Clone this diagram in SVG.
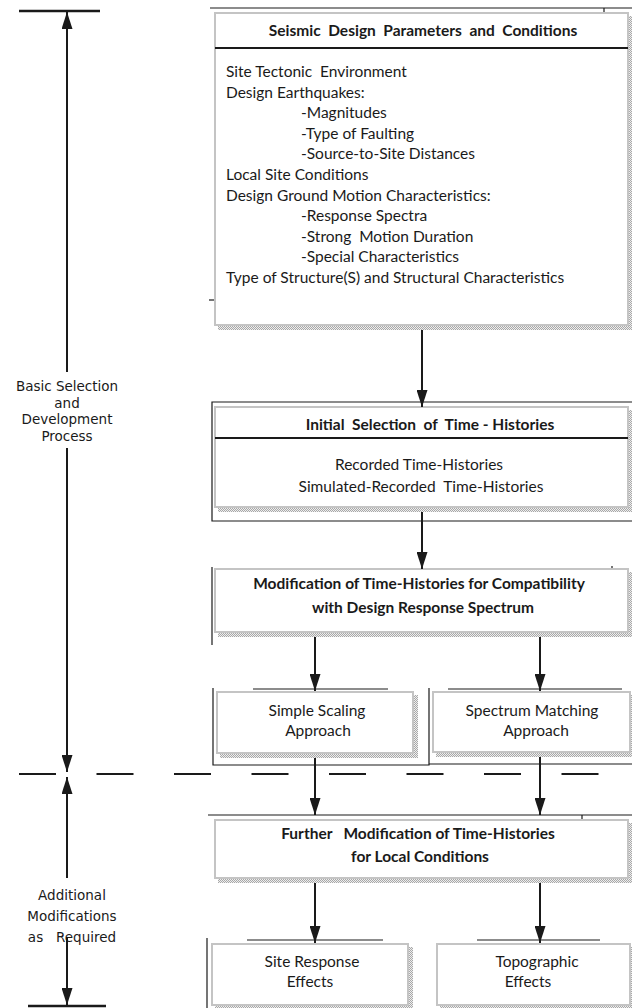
<svg xmlns="http://www.w3.org/2000/svg" width="632" height="1008" viewBox="0 0 632 1008">
<style>
.box{fill:#fff;stroke:#c4c4c4;stroke-width:2}
.sh{fill:url(#dots)}
.t{font-family:Lato,"Open Sans",sans-serif;font-size:15.5px;fill:#1a1a1a}
.b{font-weight:bold}
.c{text-anchor:middle}
.lab{font-family:"DejaVu Sans",sans-serif;font-size:13.5px;fill:#1a1a1a;text-anchor:middle}
.ln{stroke:#1a1a1a;stroke-width:1.2;fill:none}
.ar{stroke:#1a1a1a;stroke-width:2;fill:none;marker-end:url(#ah)}
.bar{stroke:#1a1a1a;stroke-width:2.5;fill:none}
</style>
<defs>
<pattern id="dots" width="2" height="2" patternUnits="userSpaceOnUse">
<rect width="2" height="2" fill="#eeeeee"/>
<rect width="1" height="1" fill="#a8a8a8"/>
<rect x="1" y="1" width="1" height="1" fill="#a8a8a8"/>
</pattern>
<marker id="ah" markerUnits="userSpaceOnUse" markerWidth="17" markerHeight="11" refX="17" refY="5.5" orient="auto">
<path d="M0,0 L17,5.5 L0,11 Z" fill="#1a1a1a"/>
</marker>
</defs>

<g id="frame-lines">
<line class="ln" x1="210" y1="8" x2="632" y2="8"/>
<line class="ln" x1="604" y1="8" x2="604" y2="13"/>
<line class="ln" x1="209" y1="300" x2="215" y2="300"/>
<path class="ln" d="M632,402 H212 V521 H632"/>
<line class="ln" x1="212" y1="567" x2="212" y2="645"/>
<line class="ln" x1="612" y1="566" x2="612" y2="571"/>
<line class="ln" x1="253" y1="689" x2="388" y2="689"/>
<line class="ln" x1="448" y1="689" x2="622" y2="689"/>
<path class="ln" d="M213,688 V765 H429 V688 M429,764 H632"/>
<line class="ln" x1="208" y1="815" x2="632" y2="815"/>
<line class="ln" x1="582" y1="815" x2="582" y2="820"/>
<line class="ln" x1="247" y1="940" x2="383" y2="940"/>
<line class="ln" x1="477" y1="940" x2="600" y2="940"/>
<line class="ln" x1="207" y1="938" x2="207" y2="1008"/>
</g>

<g id="n-seismic">
<rect class="sh" x="218" y="16" width="414" height="314"/>
<rect class="box" x="215" y="13" width="413" height="312"/>
<line x1="215" y1="48" x2="628" y2="48" stroke="#1a1a1a" stroke-width="2"/>
<text class="t b c" x="423" y="36" xml:space="preserve">Seismic  Design  Parameters  and  Conditions</text>
<text class="t" x="226" y="77" xml:space="preserve">Site Tectonic  Environment</text>
<text class="t" x="226" y="97.6">Design Earthquakes:</text>
<text class="t" x="301" y="118.2">-Magnitudes</text>
<text class="t" x="301" y="138.8">-Type of Faulting</text>
<text class="t" x="301" y="159.4">-Source-to-Site Distances</text>
<text class="t" x="226" y="180">Local Site Conditions</text>
<text class="t" x="226" y="200.6">Design Ground Motion Characteristics:</text>
<text class="t" x="301" y="221.2">-Response Spectra</text>
<text class="t" x="301" y="241.8" xml:space="preserve">-Strong  Motion Duration</text>
<text class="t" x="301" y="262.4">-Special Characteristics</text>
<text class="t" x="226" y="283">Type of Structure(S) and Structural Characteristics</text>
</g>

<g id="n-initial">
<rect class="sh" x="218" y="410" width="414" height="102"/>
<rect class="box" x="215" y="407" width="413" height="100"/>
<line x1="215" y1="438" x2="628" y2="438" stroke="#1a1a1a" stroke-width="2"/>
<text class="t b c" x="430" y="430" xml:space="preserve">Initial  Selection  of  Time - Histories</text>
<text class="t c" x="419" y="470">Recorded Time-Histories</text>
<text class="t c" x="421" y="492" xml:space="preserve">Simulated-Recorded  Time-Histories</text>
</g>

<g id="n-modification">
<rect class="sh" x="218" y="572" width="414" height="65"/>
<rect class="box" x="215" y="569" width="413" height="63"/>
<text class="t b c" x="419" y="589">Modification of Time-Histories for Compatibility</text>
<text class="t b c" x="423" y="613">with Design Response Spectrum</text>
</g>

<g id="n-simple">
<rect class="sh" x="220" y="695" width="198" height="63"/>
<rect class="box" x="217" y="692" width="196" height="61"/>
<text class="t c" x="317" y="716">Simple Scaling</text>
<text class="t c" x="318" y="736">Approach</text>
</g>

<g id="n-spectrum">
<rect class="sh" x="436" y="695" width="196" height="62"/>
<rect class="box" x="433" y="692" width="197" height="60"/>
<text class="t c" x="532" y="716">Spectrum Matching</text>
<text class="t c" x="536" y="736">Approach</text>
</g>

<g id="n-further">
<rect class="sh" x="218" y="823" width="414" height="60"/>
<rect class="box" x="215" y="820" width="413" height="58"/>
<text class="t b c" x="418" y="839" xml:space="preserve">Further   Modification of Time-Histories</text>
<text class="t b c" x="420" y="862">for Local Conditions</text>
</g>

<g id="n-site">
<rect class="sh" x="215" y="947" width="198" height="61"/>
<rect class="box" x="212" y="944" width="196" height="61"/>
<text class="t c" x="312" y="967">Site Response</text>
<text class="t c" x="310" y="987">Effects</text>
</g>

<g id="n-topo">
<rect class="sh" x="440" y="947" width="192" height="61"/>
<rect class="box" x="437" y="944" width="193" height="61"/>
<text class="t c" x="537" y="967">Topographic</text>
<text class="t c" x="528" y="987">Effects</text>
</g>

<g id="n-basic-label">
<text class="lab" x="67" y="391">Basic Selection</text>
<text class="lab" x="67" y="408">and</text>
<text class="lab" x="67" y="424">Development</text>
<text class="lab" x="67" y="441">Process</text>
</g>

<g id="n-additional-label">
<text class="lab" x="72" y="900">Additional</text>
<text class="lab" x="72" y="921">Modifications</text>
<text class="lab" x="72" y="942" xml:space="preserve">as   Required</text>
</g>

<g id="connectors">
<line class="ar" x1="422" y1="330" x2="422" y2="407"/>
<line class="ar" x1="422" y1="512" x2="422" y2="569"/>
<line class="ar" x1="315" y1="637" x2="315" y2="691"/>
<line class="ar" x1="540" y1="637" x2="540" y2="691"/>
<line class="ar" x1="315" y1="758" x2="315" y2="815"/>
<line class="ar" x1="540" y1="757" x2="540" y2="815"/>
<line class="ar" x1="315" y1="883" x2="315" y2="943"/>
<line class="ar" x1="540" y1="883" x2="540" y2="943"/>
<line class="bar" x1="19" y1="11" x2="100" y2="11"/>
<line class="ar" x1="67" y1="372" x2="67" y2="12"/>
<line class="ar" x1="67" y1="448" x2="67" y2="772"/>
<line x1="19" y1="774" x2="600" y2="774" stroke="#1a1a1a" stroke-width="2" stroke-dasharray="37 40.5"/>
<line class="ar" x1="67" y1="878" x2="67" y2="777"/>
<line class="ar" x1="67" y1="938" x2="67" y2="1005"/>
<line class="bar" x1="28" y1="1006" x2="106" y2="1006"/>
</g>
</svg>
